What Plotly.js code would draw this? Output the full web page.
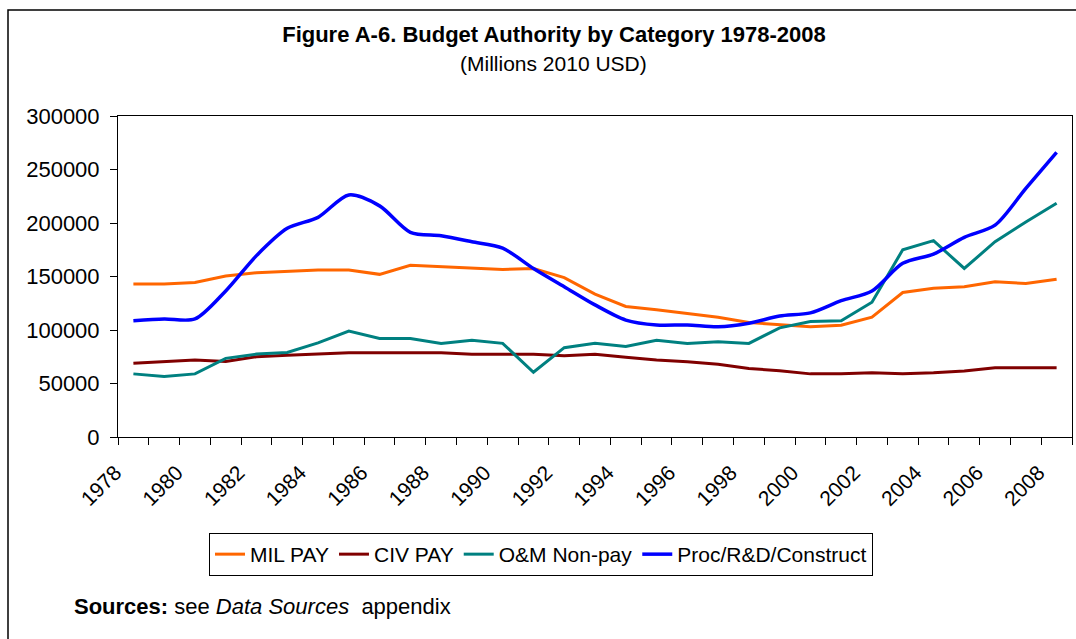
<!DOCTYPE html>
<html>
<head>
<meta charset="utf-8">
<script src="https://cdn.plot.ly/plotly-3.0.1.min.js"></script>
<style>
  html, body { margin: 0; padding: 0; background: #ffffff; overflow: hidden; }
  #chart { width: 1076px; height: 639px; }
</style>
</head>
<body>
<div id="chart"></div>
<script>
const years = [1978,1979,1980,1981,1982,1983,1984,1985,1986,1987,1988,1989,1990,1991,1992,1993,1994,1995,1996,1997,1998,1999,2000,2001,2002,2003,2004,2005,2006,2007,2008];
const tickYears = [1978,1980,1982,1984,1986,1988,1990,1992,1994,1996,1998,2000,2002,2004,2006,2008];

const milPay = [143000,143000,144500,150500,153500,154500,156000,156000,152000,160500,159000,158000,156500,157500,149000,133500,122000,119000,115500,112000,107000,105000,103000,104500,112000,135000,139000,140500,145000,143500,147500];
const civPay = [69000,70500,72000,70500,75000,76500,77500,78800,78800,78800,78800,77300,77300,77300,76000,77300,74500,72000,70400,68000,64000,62000,59000,59000,60000,59000,60000,61700,64800,64800,64800];
const omNonPay = [59000,56500,59000,73500,77500,79000,88000,99000,92000,92000,87500,90500,87500,60500,83500,87500,84500,90500,87500,89000,87500,102000,108000,108700,126000,175000,183500,157500,182500,201000,218500];
const procRdc = [108700,110300,110300,136500,169500,195000,205300,226200,216000,191300,188000,182500,176500,157500,140500,123500,109300,104700,104700,103000,106300,113000,116000,127400,136500,162300,171000,186600,198000,232400,266000];

const seriesNames = ["MIL PAY","CIV PAY","O&M Non-pay","Proc/R&D/Construct"];
const seriesColors = ["#FF6600","#800000","#008080","#0000FF"];

const FONT = '"Liberation Sans", Arial, Helvetica, sans-serif';

const traces = [
  {x: years, y: milPay, name: seriesNames[0], mode: 'lines', line: {color: seriesColors[0], width: 3}},
  {x: years, y: civPay, name: seriesNames[1], mode: 'lines', line: {color: seriesColors[1], width: 3}},
  {x: years, y: omNonPay, name: seriesNames[2], mode: 'lines', line: {color: seriesColors[2], width: 3}},
  {x: years, y: procRdc, name: seriesNames[3], mode: 'lines', line: {color: seriesColors[3], width: 3.5, shape: 'spline', smoothing: 0.8}}
];

const layout = {
  width: 1076, height: 639,
  margin: {l: 118, r: 4, t: 116, b: 202, pad: 0},
  paper_bgcolor: '#ffffff', plot_bgcolor: '#ffffff',
  font: {family: FONT, color: '#000000', size: 20},
  showlegend: true,
  title: {
    text: '<b>Figure A-6. Budget Authority by Category 1978-2008</b>',
    font: {family: FONT, size: 22, color: '#000000'},
    x: 554/1076, xref: 'container', xanchor: 'center',
    y: 1 - 34/639, yref: 'container', yanchor: 'middle'
  },
  xaxis: {
    type: 'linear',
    range: [1977.5, 2008.5],
    tickmode: 'array', tickvals: tickYears, ticktext: tickYears.map(String),
    tickangle: -45,
    ticks: '',
    ticklabelstandoff: 14,
    ticklabelshift: -18,
    tickfont: {family: FONT, size: 21, color: '#000000'},
    minor: {ticks: 'outside', tickmode: 'linear', tick0: 1977.5, dtick: 1, ticklen: 7, tickwidth: 1, tickcolor: '#000000', showgrid: false},
    showgrid: false, zeroline: false,
    showline: true, linecolor: '#000000', linewidth: 1, mirror: true,
    fixedrange: true
  },
  yaxis: {
    range: [0, 300000],
    tickmode: 'linear', tick0: 0, dtick: 50000,
    tickformat: 'd',
    ticks: 'outside', ticklen: 7, tickwidth: 1, tickcolor: '#000000',
    ticklabelstandoff: 6,
    tickfont: {family: FONT, size: 22, color: '#000000'},
    showgrid: false, zeroline: false,
    showline: true, linecolor: '#000000', linewidth: 1, mirror: true,
    fixedrange: true
  },
  legend: {
    orientation: 'h',
    x: (209-118)/954, xanchor: 'left',
    y: (437-533)/321, yanchor: 'top',
    bordercolor: '#000000', borderwidth: 1,
    bgcolor: '#ffffff',
    font: {family: FONT, size: 21, color: '#000000'},
    traceorder: 'normal'
  },
  annotations: [
    {
      text: '(Millions 2010 USD)',
      xref: 'paper', yref: 'paper',
      x: (553-118)/954, y: (437-64)/321,
      xanchor: 'center', yanchor: 'middle',
      showarrow: false,
      font: {family: FONT, size: 21, color: '#000000'}
    },
    {
      text: '<b>Sources:</b> see <i>Data Sources</i>  appendix',
      xref: 'paper', yref: 'paper',
      x: (72-118)/954, y: (437-606)/321,
      xanchor: 'left', yanchor: 'middle',
      showarrow: false,
      font: {family: FONT, size: 22, color: '#000000'}
    }
  ],
  shapes: [
    {
      type: 'rect', xref: 'paper', yref: 'paper',
      x0: (8-118)/954, x1: 1.2, y0: -1.0, y1: (437-10)/321,
      line: {color: '#000000', width: 1.5}, fillcolor: 'rgba(0,0,0,0)', layer: 'below'
    }
  ]
};

Plotly.newPlot('chart', traces, layout, {displayModeBar: false, staticPlot: true});
</script>
</body>
</html>
